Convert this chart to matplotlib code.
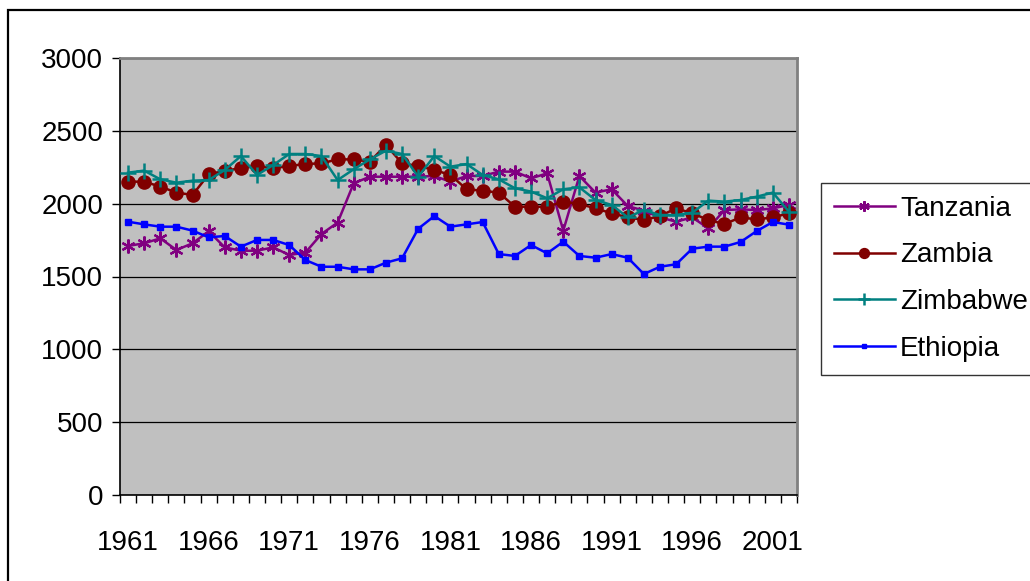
import matplotlib
matplotlib.use("Agg")
import matplotlib.pyplot as plt
from matplotlib.patches import Rectangle

plt.rcParams['font.family'] = ['Liberation Sans', 'DejaVu Sans']

years = list(range(1961, 2003))
tanzania = [1710, 1728, 1762, 1682, 1728, 1810, 1700, 1677, 1677, 1700,
            1648, 1664, 1792, 1870, 2140, 2185, 2185, 2185, 2185, 2190,
            2151, 2190, 2190, 2220, 2220, 2174, 2208, 1815, 2190, 2076,
            2099, 1984, 1952, 1906, 1876, 1906, 1831, 1956, 1961, 1956,
            1968, 1991]
zambia = [2151, 2151, 2117, 2076, 2060, 2201, 2227, 2243, 2259, 2243,
          2259, 2272, 2277, 2304, 2304, 2288, 2403, 2277, 2259, 2231,
          2197, 2099, 2089, 2076, 1979, 1979, 1979, 2014, 1998, 1968,
          1934, 1906, 1888, 1915, 1968, 1934, 1888, 1860, 1906, 1892,
          1906, 1934]
zimbabwe = [2213, 2227, 2167, 2144, 2158, 2162, 2231, 2327, 2197, 2265,
            2341, 2341, 2327, 2162, 2236, 2304, 2364, 2341, 2185, 2327,
            2254, 2272, 2197, 2167, 2106, 2083, 2037, 2099, 2112, 2025,
            1991, 1906, 1956, 1922, 1922, 1938, 2021, 2014, 2025, 2048,
            2076, 1945]
ethiopia = [1876, 1858, 1842, 1842, 1815, 1769, 1778, 1705, 1751, 1751,
            1716, 1613, 1567, 1567, 1549, 1549, 1595, 1625, 1828, 1915,
            1842, 1858, 1874, 1654, 1641, 1716, 1659, 1739, 1641, 1629,
            1654, 1629, 1517, 1567, 1584, 1691, 1705, 1705, 1737, 1812,
            1874, 1856]
series_names = ["Tanzania", "Zambia", "Zimbabwe", "Ethiopia"]
yticks = [0, 500, 1000, 1500, 2000, 2500, 3000]

W, H = 1030, 581
fig = plt.figure(figsize=(W / 100, H / 100), dpi=100)
fig.patch.set_facecolor('white')

# outer chart frame (extends past the image on the right and bottom)
fig.add_artist(Rectangle((8 / W, -0.1), 1.2, 1 - 10 / H + 0.1,
                         transform=fig.transFigure, fill=False,
                         edgecolor='black', linewidth=1.6, clip_on=False))

ax = fig.add_axes([120 / W, 1 - 495 / H, 677 / W, 437 / H])
ax.set_facecolor('#C0C0C0')

x = [i + 0.5 for i in range(len(years))]
lw = 1.8
ax.plot(x, tanzania, color='#800080', lw=lw, marker=(6, 2, 0), ms=10,
        mew=1.6, label=series_names[0], zorder=3)
ax.plot(x, zambia, color='#800000', lw=lw, marker='o', ms=9.5,
        label=series_names[1], zorder=3)
ax.plot(x, zimbabwe, color='#008080', lw=lw, marker='+', ms=11,
        mew=1.8, label=series_names[2], zorder=3)
ax.plot(x, ethiopia, color='#0000FF', lw=lw, marker='s', ms=4.5,
        label=series_names[3], zorder=3)

ax.set_xlim(0, len(years))
ax.set_ylim(0, 3000)
ax.set_yticks(yticks)
ax.set_yticklabels([str(v) for v in yticks], fontsize=20)
ax.yaxis.grid(True, color='black', linewidth=0.9)
ax.set_axisbelow(True)

ax.set_xticks(range(len(years) + 1))
ax.set_xticklabels([])
ax.set_xticks([i + 0.5 for i in range(0, len(years), 5)], minor=True)
ax.set_xticklabels([str(years[i]) for i in range(0, len(years), 5)],
                   minor=True, fontsize=20)
ax.tick_params(axis='x', which='major', direction='out', length=6,
               width=1, color='black')
ax.tick_params(axis='x', which='minor', length=0, pad=25)
ax.tick_params(axis='y', direction='out', length=6, width=1, pad=6,
               color='black')

for s in ['top', 'right']:
    ax.spines[s].set_color('#808080')
    ax.spines[s].set_linewidth(2)
for s in ['left', 'bottom']:
    ax.spines[s].set_color('black')
    ax.spines[s].set_linewidth(1.2)

leg = ax.legend(loc='upper left', bbox_to_anchor=(821 / W, 1 - 183 / H),
                bbox_transform=fig.transFigure, fontsize=20, frameon=True,
                fancybox=False, edgecolor='black', handlelength=2.2,
                handletextpad=0.2, labelspacing=0.75, borderpad=0.45,
                borderaxespad=0, markerscale=0.75)
leg.get_frame().set_linewidth(1.0)

fig.savefig('out.png', dpi=100, facecolor='white')
